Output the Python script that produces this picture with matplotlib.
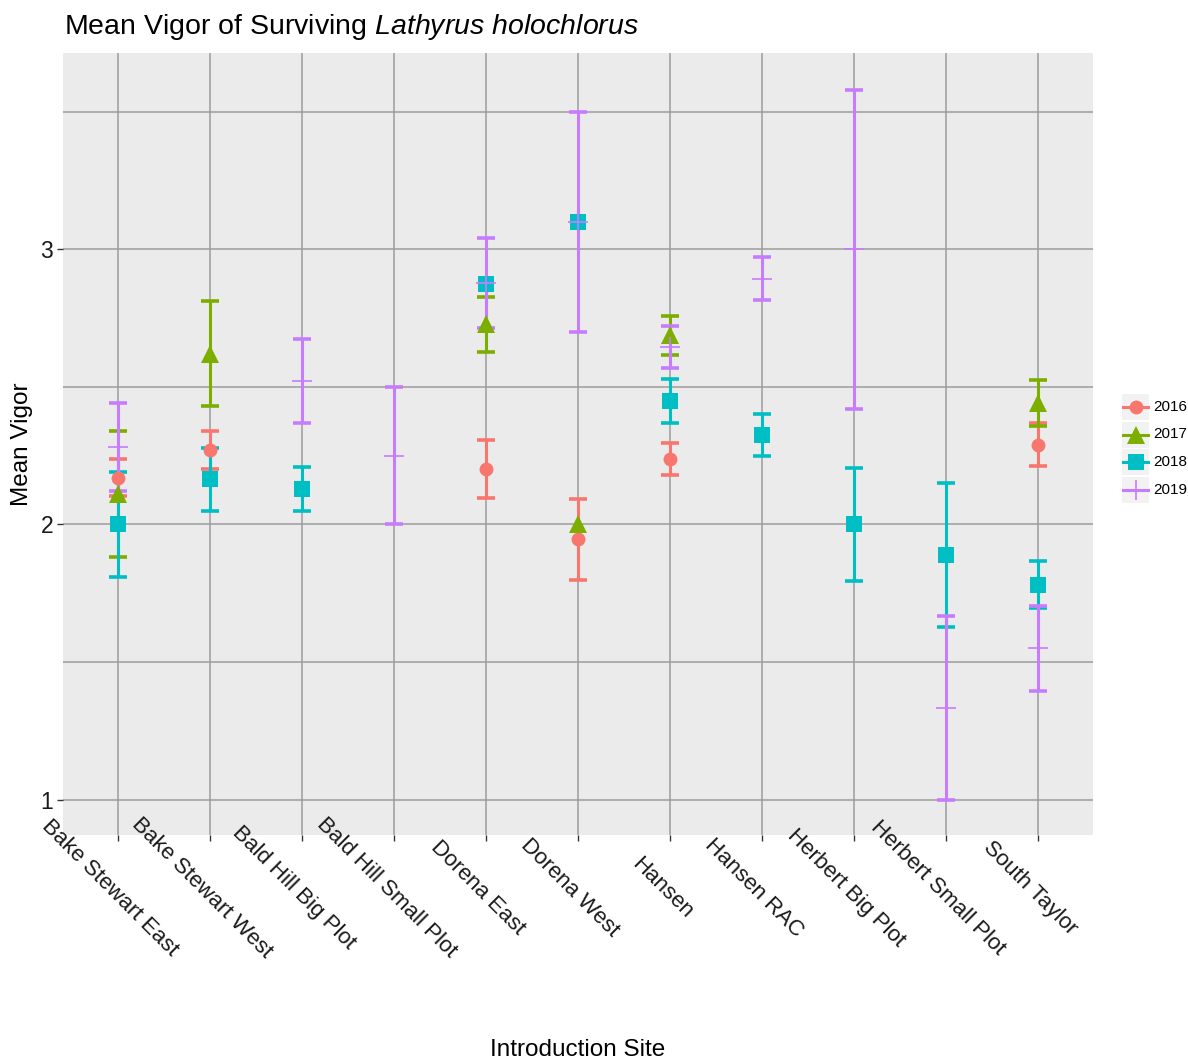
import numpy as np
import matplotlib.pyplot as plt
import matplotlib.transforms as mtransforms
from matplotlib.lines import Line2D
from matplotlib.patches import Rectangle

plt.rcParams['font.family'] = ['Liberation Sans', 'DejaVu Sans']
plt.rcParams['mathtext.fontset'] = 'custom'
plt.rcParams['mathtext.rm'] = 'Liberation Sans'
plt.rcParams['mathtext.it'] = 'Liberation Sans:italic'

nan = np.nan

# introduction sites
sites = ["Bake Stewart East", "Bake Stewart West", "Bald Hill Big Plot",
         "Bald Hill Small Plot", "Dorena East", "Dorena West", "Hansen",
         "Hansen RAC", "Herbert Big Plot", "Herbert Small Plot", "South Taylor"]

# mean vigor and standard error per year (nan = no surviving plants / no se)
mean_2016 = [2.17, 2.27, nan, nan, 2.20, 1.945, 2.237, nan, nan, nan, 2.29]
se_2016 = [0.067, 0.068, nan, nan, 0.105, 0.148, 0.057, nan, nan, nan, 0.078]
mean_2017 = [2.11, 2.62, nan, nan, 2.728, 2.0, 2.687, nan, nan, nan, 2.44]
se_2017 = [0.23, 0.19, nan, nan, 0.10, nan, 0.07, nan, nan, nan, 0.084]
mean_2018 = [2.0, 2.163, 2.127, nan, 2.875, 3.10, 2.45, 2.325, 2.0, 1.888, 1.78]
se_2018 = [0.19, 0.113, 0.08, nan, nan, nan, 0.08, 0.075, 0.206, 0.262, 0.085]
mean_2019 = [2.28, nan, 2.52, 2.25, 2.878, 3.10, 2.645, 2.893, 3.0, 1.333, 1.55]
se_2019 = [0.16, nan, 0.152, 0.25, 0.163, 0.40, 0.076, 0.079, 0.58, 0.333, 0.154]

years = ["2016", "2017", "2018", "2019"]
means = [mean_2016, mean_2017, mean_2018, mean_2019]
ses = [se_2016, se_2017, se_2018, se_2019]
colors = ["#F8766D", "#7CAE00", "#00BFC4", "#C77CFF"]
markers = ["o", "^", "s", "+"]
msizes = [10, 12.5, 11, 15]
mews = [0, 0, 0, 1.2]

fig = plt.figure(figsize=(11.88, 10.6), dpi=100)
W, H = 1188, 1060
ax = fig.add_axes([63 / W, 225 / H, 1030 / W, 782 / H])
ax.set_facecolor("#EBEBEB")
for s in ax.spines.values():
    s.set_visible(False)

x = np.arange(len(sites))

# error bars first, points on top
for m, se, c in zip(means, ses, colors):
    m = np.array(m)
    se = np.array(se)
    ok = np.isfinite(m) & np.isfinite(se)
    ax.errorbar(x[ok], m[ok], yerr=se[ok], fmt="none", ecolor=c,
                elinewidth=2.2, capsize=6.5, capthick=2.6, zorder=3)

for m, c, mk, ms, mw in zip(means, colors, markers, msizes, mews):
    ax.plot(x, m, linestyle="none", marker=mk, ms=ms, color=c,
            mew=mw, zorder=4)

# axes
ax.set_xlim(-0.6, len(sites) - 0.4)
ax.set_ylim(0.871, 3.713)
ax.set_yticks([1, 2, 3])
ax.set_yticklabels(["1", "2", "3"])
ax.set_yticks([1.5, 2.5, 3.5], minor=True)
ax.set_axisbelow(True)
ax.grid(which="major", color="#9c9c9c", linewidth=1.1)
ax.grid(which="minor", axis="y", color="#9c9c9c", linewidth=1.1)
ax.tick_params(axis="both", which="major", length=4, width=1, color="#333333")
ax.tick_params(axis="y", which="minor", length=0)
ax.tick_params(axis="y", labelsize=16.5, labelcolor="#1a1a1a", pad=3)
ax.tick_params(axis="x", pad=0)

# site names rotated and centred below their ticks
ax.set_xticks(x)
ax.set_xticklabels(sites, rotation=-45, ha="center", va="center",
                   rotation_mode="anchor", fontsize=16, color="#1a1a1a")
shift = mtransforms.ScaledTranslation(-0.08, -0.475, fig.dpi_scale_trans)
for lbl in ax.get_xticklabels():
    lbl.set_transform(lbl.get_transform() + shift)

ax.set_xlabel("Introduction Site", fontsize=17.5)
ax.xaxis.set_label_coords(0.5, -(1050 - 835) / 782)
ax.xaxis.label.set_va("center")
ax.set_ylabel("Mean Vigor", fontsize=17.5)
ax.yaxis.set_label_coords((22 - 63) / 1030, 0.5)
ax.yaxis.label.set_va("center")

fig.text(64 / W, 1 - 34 / H,
         r"Mean Vigor of Surviving $\mathit{Lathyrus\ holochlorus}$",
         fontsize=20.5, va="baseline", ha="left")

# legend keys
for i, (yr, c, mk, ms, mw) in enumerate(zip(years, colors, markers, msizes, mews)):
    yc = 407 + 27.5 * i
    fig.add_artist(Rectangle((1122 / W, 1 - (yc + 13) / H), 27 / W, 26 / H,
                             transform=fig.transFigure, facecolor="#F2F2F2",
                             edgecolor="none"))
    fig.add_artist(Line2D([1123 / W, 1148 / W], [1 - yc / H, 1 - yc / H],
                          transform=fig.transFigure, color=c, lw=2.2))
    fig.add_artist(Line2D([1135.5 / W], [1 - yc / H], transform=fig.transFigure,
                          color=c, marker=mk, ms=ms, mew=mw, linestyle="none"))
    fig.text(1153 / W, 1 - yc / H, yr, fontsize=11, va="center", ha="left")

fig.savefig("out.png", dpi=100)
